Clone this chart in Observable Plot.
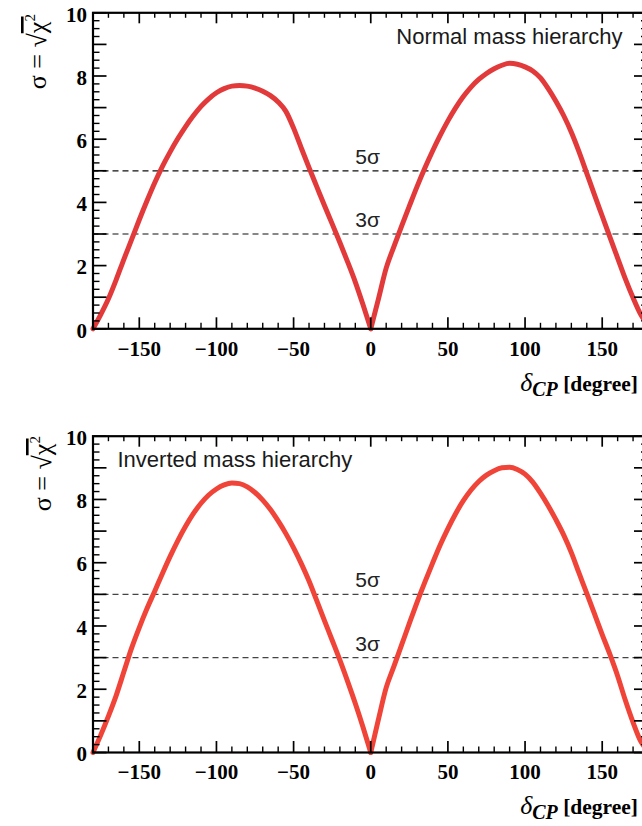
<!DOCTYPE html>
<html><head><meta charset="utf-8">
<script src="https://cdn.jsdelivr.net/npm/d3@7"></script>
<script src="https://cdn.jsdelivr.net/npm/@observablehq/plot@0.6"></script>
<style>
body{margin:0;background:#fff}
#c{width:642px;height:826px;overflow:hidden;position:relative;background:#fff}
#c svg{display:block;max-width:none}
</style>
</head><body><div id="c"></div>
<script>
// delta_CP grid (degree), shared by both panels
const deltaCP = [-180,-175,-170,-165,-160,-155,-150,-145,-140,-135,-130,-125,-120,-115,-110,-105,-100,-95,-90,-85,-80,-75,-70,-65,-60,-55,-50,-45,-40,-35,-30,-25,-20,-15,-10,-5,0,
  5,10,15,20,25,30,35,40,45,50,55,60,65,70,75,80,85,90,95,100,105,110,115,120,125,130,135,140,145,150,155,160,165,170,175,180];
// Normal mass hierarchy: significance sigma
const sigmaNH = [0,0.45,0.95,1.55,2.2,2.82,3.45,4.05,4.62,5.14,5.6,6.02,6.4,6.74,7.04,7.28,7.47,7.6,7.68,7.7,7.68,7.62,7.52,7.38,7.18,6.88,6.35,5.72,5.1,4.5,3.9,3.32,2.73,2.12,1.48,0.76,0,
  0.95,1.92,2.6,3.25,3.88,4.5,5.08,5.62,6.12,6.58,6.99,7.35,7.65,7.89,8.08,8.23,8.34,8.4,8.37,8.29,8.16,7.94,7.6,7.2,6.75,6.22,5.6,4.92,4.24,3.57,2.9,2.24,1.58,0.98,0.45,0.1];
// Inverted mass hierarchy: significance sigma
const sigmaIH = [0,0.55,1.15,1.8,2.55,3.3,3.95,4.55,5.1,5.66,6.2,6.7,7.15,7.55,7.88,8.14,8.33,8.46,8.52,8.5,8.4,8.22,7.98,7.68,7.32,6.92,6.47,5.97,5.42,4.8,4.17,3.55,2.92,2.25,1.55,0.8,0,
  1.05,2.05,2.72,3.4,4.08,4.75,5.38,5.98,6.56,7.08,7.55,7.96,8.3,8.57,8.77,8.91,9.0,9.02,8.95,8.8,8.55,8.2,7.8,7.36,6.88,6.32,5.67,5.03,4.38,3.73,3.1,2.42,1.65,0.95,0.35,0.05];

const xLabelTicks = [-150,-100,-50,0,50,100,150];
const xMinorTicks = [-170,-160,-140,-130,-120,-110,-90,-80,-70,-60,-40,-30,-20,-10,10,20,30,40,60,70,80,90,110,120,130,140,160,170];
const yLabelTicks = [0,2,4,6,8,10];
const yMajorTicks = [0,1,2,3,4,5,6,7,8,9,10];
const yMinorTicks = d3.range(0, 10.001, 0.25).filter(v => Math.abs(v % 1) > 1e-9);
const sigmaLevels = [3,5];
const sigmaLabels = ["3σ","5σ"];
const titles = ["Normal mass hierarchy","Inverted mass hierarchy"];

const serif = "Liberation Serif", sans = "Liberation Sans";
const fmt = d => d < 0 ? "\u2212" + Math.abs(d) : String(d);

function panel({delta, sigma, color, dashColor, title, titleRight, height, marginTop, marginBottom, ylabX, ylabTop, xlabY}) {
  const rows = delta.map((d,i) => ({x: d, y: sigma[i]}));
  const left = rows.filter(r => r.x <= 0), right = rows.filter(r => r.x >= 0);
  const svg = Plot.plot({
    width: 648, height, marginLeft: 92.5, marginRight: 0, marginTop, marginBottom,
    style: {maxWidth: "none", background: "#fff"},
    x: {domain: [-180,180], label: null},
    y: {domain: [0,10], label: null},
    marks: [
      Plot.ruleY(sigmaLevels, {y: d => d, stroke: dashColor, strokeWidth: 1.2, strokeDasharray: "6,4"}),
      Plot.text(sigmaLevels, {x: -10, y: d => d, text: (d,i) => sigmaLabels[i], textAnchor: "start", lineAnchor: "bottom", dy: -7, fontFamily: sans, fontSize: 21, fill: "#222"}),
      Plot.text([title], {frameAnchor: titleRight ? "top-right" : "top-left", text: d => d, textAnchor: titleRight ? "end" : "start", dx: titleRight ? -26 : 24.5, dy: 31, lineAnchor: "bottom", fontFamily: sans, fontSize: 22, fill: "#1a1a1a"}),
      Plot.line(left, {x: "x", y: "y", stroke: color, strokeWidth: 5, curve: "monotone-x"}),
      Plot.line(right, {x: "x", y: "y", stroke: color, strokeWidth: 5, curve: "monotone-x"}),
      // bottom ticks
      Plot.ruleX(xLabelTicks, {x: d => d, y1: 0, y2: 0, insetTop: -11, stroke: "#000", strokeWidth: 1.7}),
      Plot.ruleX(xMinorTicks, {x: d => d, y1: 0, y2: 0, insetTop: -5.5, stroke: "#000", strokeWidth: 1.4}),
      // top ticks
      Plot.ruleX(xLabelTicks, {x: d => d, y1: 10, y2: 10, insetBottom: -11, stroke: "#000", strokeWidth: 1.7}),
      Plot.ruleX(xMinorTicks, {x: d => d, y1: 10, y2: 10, insetBottom: -5.5, stroke: "#000", strokeWidth: 1.4}),
      // left ticks
      Plot.ruleY(yMajorTicks, {y: d => d, x1: -180, x2: -180, insetRight: -14, stroke: "#000", strokeWidth: 1.7}),
      Plot.ruleY(yMinorTicks, {y: d => d, x1: -180, x2: -180, insetRight: -7, stroke: "#000", strokeWidth: 1.4}),
      // right ticks
      Plot.ruleY(yMajorTicks, {y: d => d, x1: 180, x2: 180, insetLeft: -14, stroke: "#000", strokeWidth: 1.7}),
      Plot.ruleY(yMinorTicks, {y: d => d, x1: 180, x2: 180, insetLeft: -7, stroke: "#000", strokeWidth: 1.4}),
      Plot.frame({stroke: "#000", strokeWidth: 2.2}),
      Plot.axisX({ticks: xLabelTicks, tickSize: 0, tickPadding: 12, tickFormat: fmt, fontFamily: serif, fontWeight: "bold", fontSize: 21, label: null}),
      Plot.axisY({ticks: yLabelTicks, tickSize: 0, tickPadding: 6, dy: 2, tickFormat: fmt, fontFamily: serif, fontWeight: "bold", fontSize: 21, label: null})
    ]
  });
  const s = d3.select(svg);
  // y-axis title: sigma = sqrt(chi^2)
  const yl = s.append("text")
    .attr("transform", `translate(${ylabX},${ylabTop}) rotate(-90)`)
    .attr("text-anchor", "end")
    .attr("font-family", serif).attr("font-size", 26).attr("fill", "#000");
  yl.append("tspan").text("σ = √");
  yl.append("tspan").attr("text-decoration", "overline").text("χ\u2009");
  yl.append("tspan").attr("dy", -11).attr("dx", -5).attr("font-size", 15).text("2");
  // x-axis title
  const xl = s.append("text")
    .attr("x", 638).attr("y", xlabY).attr("text-anchor", "end")
    .attr("font-family", serif).attr("fill", "#000");
  xl.append("tspan").attr("font-style", "italic").attr("font-size", 26).text("δ");
  xl.append("tspan").attr("font-style", "italic").attr("font-weight", "bold").attr("font-size", 20).attr("dy", 5).text("CP");
  xl.append("tspan").attr("font-weight", "bold").attr("font-size", 21.5).attr("dy", -5).text(" [degree]");
  return svg;
}

const c = document.getElementById("c");
c.appendChild(panel({delta: deltaCP, sigma: sigmaNH, color: "#e23a3a", dashColor: "#111", title: titles[0], titleRight: true,
  height: 423, marginTop: 12.3, marginBottom: 94.7, ylabX: 46, ylabTop: 14, xlabY: 391}));
c.appendChild(panel({delta: deltaCP, sigma: sigmaIH, color: "#f04438", dashColor: "#444", title: titles[1], titleRight: false,
  height: 403, marginTop: 12.7, marginBottom: 74, ylabX: 51, ylabTop: 13, xlabY: 391}));
</script>
</body></html>
